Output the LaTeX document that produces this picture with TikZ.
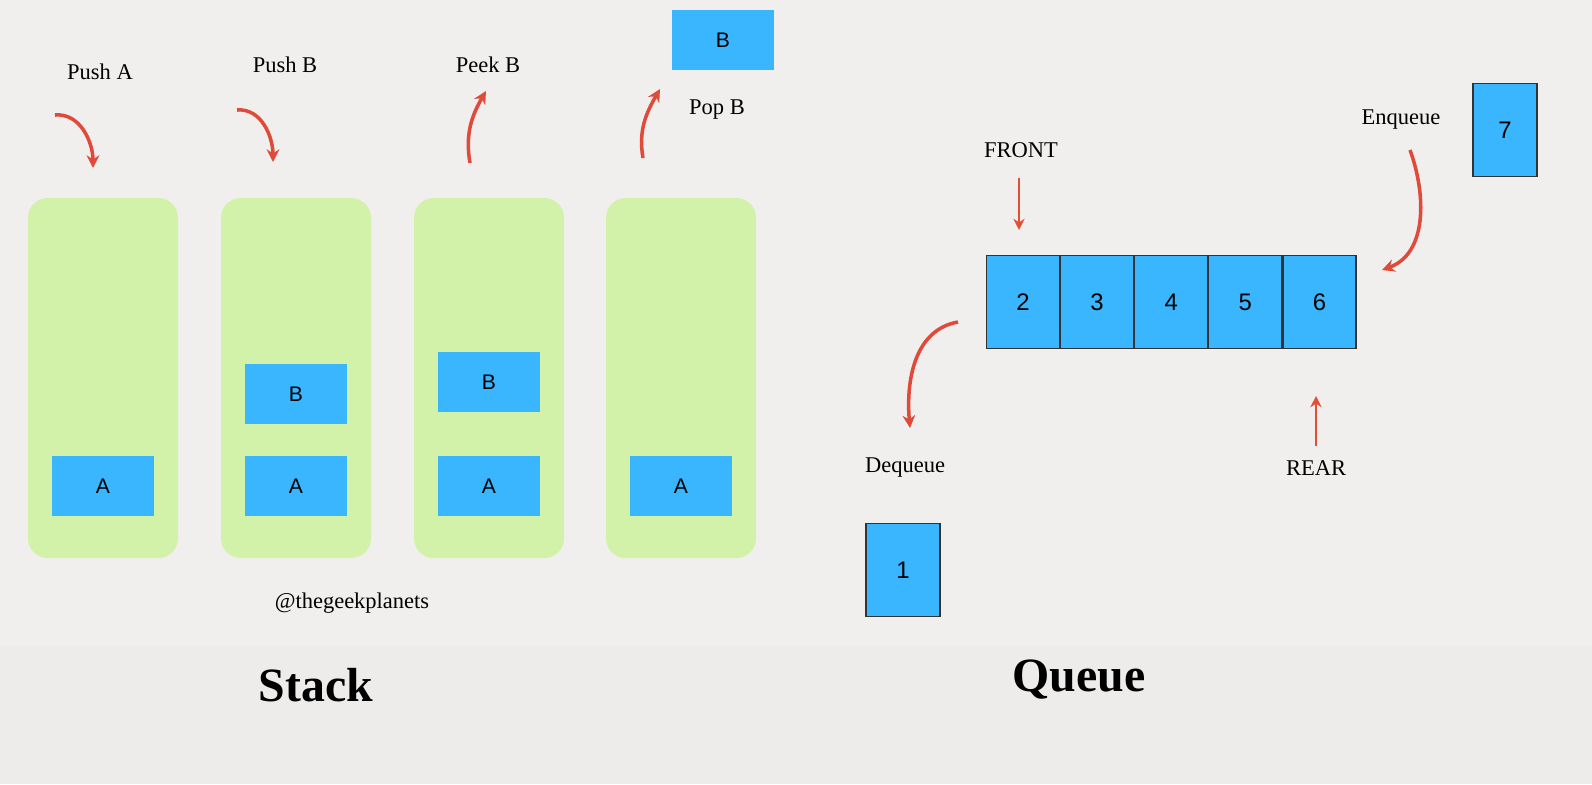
\documentclass[tikz,border=0pt]{standalone}
\usepackage{fontspec}
\setmainfont{Liberation Serif}
\newfontfamily\boxfont{Liberation Sans}
\usetikzlibrary{arrows.meta,positioning}
\definecolor{mybg}{HTML}{F0EFED}
\definecolor{mybot}{HTML}{EDECEA}
\definecolor{mygreen}{HTML}{D3F2A9}
\definecolor{myblue}{HTML}{3AB6FF}
\definecolor{myred}{HTML}{E04A3A}
\tikzset{
  col/.style={fill=mygreen,rounded corners=14pt,minimum width=150*0.025cm,minimum height=360*0.025cm,inner sep=0pt},
  item/.style={fill=myblue,minimum width=102*0.025cm,minimum height=60*0.025cm,inner sep=0pt,font=\boxfont\fontsize{15}{18}\selectfont},
  cell/.style={fill=myblue,draw=black!80,thick,minimum width=73*0.025cm,minimum height=93*0.025cm,inner sep=0pt,font=\boxfont\fontsize{17}{20}\selectfont},
  lbl/.style={font=\fontsize{16}{19}\selectfont},
  title/.style={font=\bfseries\fontsize{34}{40}\selectfont},
  curvy/.style={myred,line width=2.5pt,-{Stealth[length=9pt,width=9pt]}},
  straight/.style={myred!90!orange,line width=2pt,-{Stealth[length=8pt,width=8pt]}}
}
\begin{document}
\begin{tikzpicture}[x=0.025cm,y=-0.025cm]
  \fill[mybg] (0,0) rectangle (1592,784);
  \fill[mybot] (0,645) rectangle (1592,784);

  % stack columns
  \node[col] (c1) at (103,378) {};
  \node[col] (c2) at (296,378) {};
  \node[col] (c3) at (489,378) {};
  \node[col] (c4) at (681,378) {};

  \node[item] (a1) at (103,486) {A};
  \node[item] (a2) at (296,486) {A};
  \node[item] (b2) at (296,394) {B};
  \node[item] (a3) at (489,486) {A};
  \node[item] (b3) at (489,382) {B};
  \node[item] (a4) at (681,486) {A};
  \node[item] (b4) at (723,40) {B};

  % operations
  \node[lbl] (pa) at (100,72) {Push A};
  \node[lbl] (pb) at (285,65) {Push B};
  \node[lbl] (kb) at (488,65) {Peek B};
  \node[lbl] (ob) at (717,110) {Pop B};

  \coordinate (s1) at (55,115);  \coordinate (e1) at (93,168);
  \coordinate (s2) at (237,110); \coordinate (e2) at (273,162);
  \coordinate (s3) at (470,163); \coordinate (e3) at (486,91);
  \coordinate (s4) at (643,158); \coordinate (e4) at (660,89);
  \draw[curvy] (s1) to[out=5,in=90] (e1);
  \draw[curvy] (s2) to[out=5,in=90] (e2);
  \draw[curvy] (s3) to[out=100,in=-120] (e3);
  \draw[curvy] (s4) to[out=100,in=-120] (e4);

  \node[lbl] (tag) at (352,603) {@thegeekplanets};
  \node[title] (stk) at (316,685) {Stack};

  % queue
  \node[cell] (q2) at (1023,302) {2};
  \node[cell,right=0pt of q2] (q3) {3};
  \node[cell,right=0pt of q3] (q4) {4};
  \node[cell,right=0pt of q4] (q5) {5};
  \node[cell,right=0pt of q5] (q6) {6};
  \node[cell,minimum width=64*0.025cm] (q7) at (1505,130) {7};
  \node[cell,minimum width=74*0.025cm] (q1) at (903,570) {1};

  \node[lbl] (front) at (1021,150) {FRONT};
  \node[lbl] (rear) at (1316,468) {REAR};
  \node[lbl] (enq) at (1401,120) {Enqueue};
  \node[lbl] (deq) at (905,468) {Dequeue};

  \coordinate (f0) at (1019,178); \coordinate (f1) at (1019,230);
  \draw[straight] (f0) -- (f1);
  \coordinate (r0) at (1316,446); \coordinate (r1) at (1316,396);
  \draw[straight] (r0) -- (r1);
  \coordinate (s5) at (1410,150); \coordinate (e5) at (1382,270);
  \draw[curvy] (s5) to[out=-70,in=20] (e5);
  \coordinate (s6) at (958,322); \coordinate (e6) at (910,428);
  \draw[curvy] (s6) to[out=190,in=95] (e6);

  \node[title] (que) at (1079,680) {Queue};
\end{tikzpicture}
\end{document}
